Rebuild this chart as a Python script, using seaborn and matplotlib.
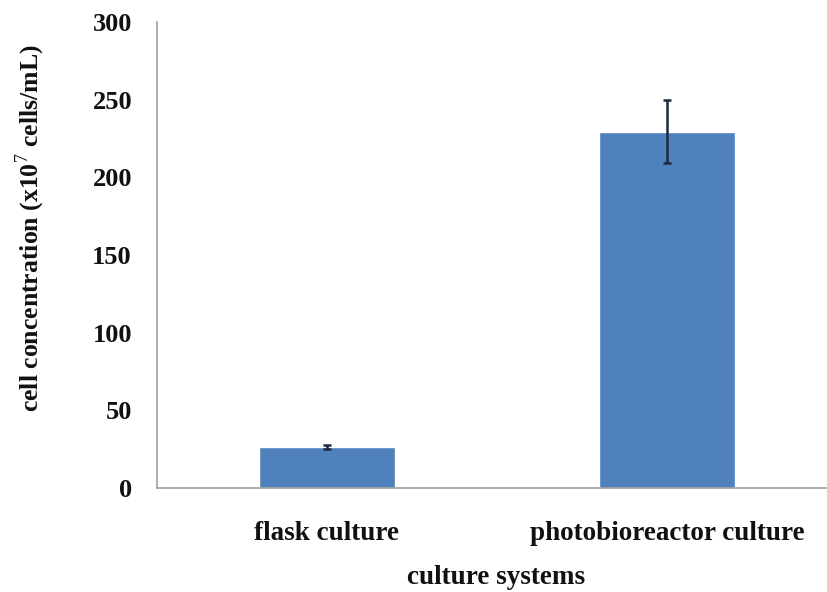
import matplotlib
matplotlib.use("Agg")
import matplotlib.pyplot as plt
import seaborn as sns
import pandas as pd

categories = ["flask culture", "photobioreactor culture"]
concentration = [26.4, 229.5]
std_err = [1.5, 20.0]
y_ticks = [0, 50, 100, 150, 200, 250, 300]

sns.set_style("white")
plt.rcParams["font.family"] = ["Liberation Serif", "DejaVu Serif"]
plt.rcParams["mathtext.fontset"] = "custom"
plt.rcParams["mathtext.rm"] = "Liberation Serif"
plt.rcParams["mathtext.bf"] = "Liberation Serif:bold"
for key in ["text.color", "axes.labelcolor", "xtick.labelcolor", "ytick.labelcolor"]:
    plt.rcParams[key] = "#111111"

df = pd.DataFrame({"system": categories, "value": concentration})

fig = plt.figure(figsize=(8.28, 5.92), dpi=100)
ax = fig.add_axes([157 / 828, 1 - 488 / 592, 1 - 157 / 828, (488 - 22) / 592])

sns.barplot(data=df, x="system", y="value", color="#4F81BD", saturation=1,
            width=0.4, errorbar=None, ax=ax, zorder=2)
ax.errorbar(range(len(categories)), concentration, yerr=std_err, fmt="none",
            ecolor="#1c2a3e", elinewidth=1.8, capsize=3, capthick=1.8, zorder=3)

ax.set_xlim(-0.5, -0.5 + (828 - 157) / 340)
ax.set_ylim(0, 300)
ax.set_yticks(y_ticks)
ax.set_yticklabels([str(t) for t in y_ticks], fontsize=19, fontweight="bold")

# category boundaries carry the x ticks; labels sit at category centres
ax.set_xticks([-0.5, 0.5])
ax.set_xticklabels(["", ""])
ax.set_xticks([0, 1], minor=True)
ax.set_xticklabels(categories, minor=True, fontsize=19.5, fontweight="bold")
ax.tick_params(axis="x", which="minor", length=0, pad=24)
ax.tick_params(axis="x", which="major", length=6, color="#b0b0b0", width=1)
ax.tick_params(axis="y", length=6, color="#b0b0b0", width=1, pad=12)

for side in ["top", "right"]:
    ax.spines[side].set_visible(False)
for side in ["left", "bottom"]:
    ax.spines[side].set_color("#a0a0a0")
    ax.spines[side].set_linewidth(1.2)

ax.set_xlabel("culture systems", fontsize=19.5, fontweight="bold", va="center")
ax.xaxis.set_label_coords((496 - 157) / 671, (488 - 578) / 466)
ax.set_ylabel(r"cell concentration (x10$^{7}$ cells/mL)", fontsize=18.5,
              fontweight="bold", va="center")
ax.yaxis.set_label_coords((30 - 157) / 671, (488 - 228) / 466)

fig.savefig("out.png", dpi=100)
